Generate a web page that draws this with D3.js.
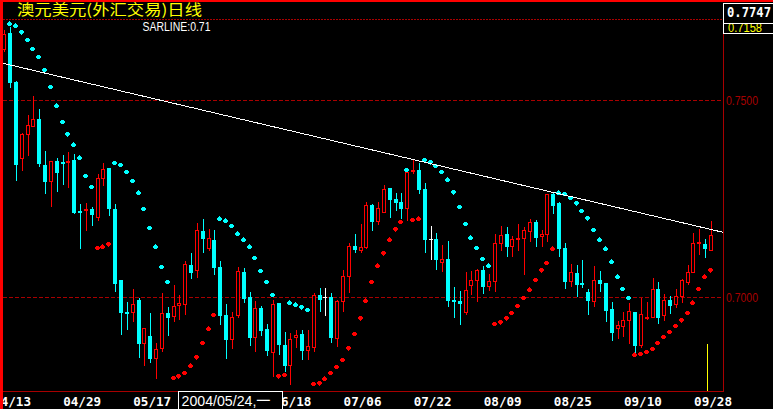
<!DOCTYPE html>
<html><head><meta charset="utf-8">
<script src="https://cdn.jsdelivr.net/npm/d3@7"></script>
<style>html,body{margin:0;padding:0;background:#000;overflow:hidden}svg{display:block}</style>
</head><body><svg id="c" width="773" height="409"></svg>
<script>
const title = "澳元美元(外汇交易)日线";
const sarLabel = "SARLINE:0.71";
const cursorLabel = "2004/05/24,一";
const cursorDate = "05/24";
const cursorPrice = 0.7747;
const dates = ["04/12","04/13","04/14","04/15","04/16","04/19","04/20","04/21","04/22","04/23","04/26","04/27","04/28","04/29","04/30",
"05/03","05/04","05/05","05/06","05/07","05/10","05/11","05/12","05/13","05/14","05/17","05/18","05/19","05/20","05/21","05/24","05/25","05/26","05/27","05/28","05/31",
"06/01","06/02","06/03","06/04","06/07","06/08","06/09","06/10","06/11","06/14","06/15","06/16","06/17","06/18","06/21","06/22","06/23","06/24","06/25","06/28","06/29","06/30",
"07/01","07/02","07/05","07/06","07/07","07/08","07/09","07/12","07/13","07/14","07/15","07/16","07/19","07/20","07/21","07/22","07/23","07/26","07/27","07/28","07/29","07/30",
"08/02","08/03","08/04","08/05","08/06","08/09","08/10","08/11","08/12","08/13","08/16","08/17","08/18","08/19","08/20","08/23","08/24","08/25","08/26","08/27","08/30","08/31",
"09/01","09/02","09/03","09/06","09/07","09/08","09/09","09/10","09/13","09/14","09/15","09/16","09/17","09/20","09/21","09/22","09/23","09/24","09/27","09/28"];
const xTicks = ["04/13","04/29","05/17","06/18","07/06","07/22","08/09","08/25","09/10","09/28"];
const yTicks = [0.70, 0.75];
const open = [0.7628,0.7672,0.7547,0.7350,0.7413,0.7433,0.7453,0.7336,0.7293,0.7346,
0.7343,0.7340,0.7349,0.7220,0.7219,0.7224,0.7201,0.7300,0.7328,0.7224,
0.7044,0.6963,0.6960,0.6993,0.6882,0.6902,0.6843,0.6869,0.6960,0.6950,
0.6978,0.6981,0.7082,0.7067,0.7168,0.7123,0.7146,0.7077,0.6955,0.6892,
0.6953,0.7064,0.7001,0.6897,0.6973,0.6920,0.6859,0.6986,0.6879,0.6826,
0.6897,0.6907,0.6864,0.6871,0.7006,0.7001,0.7001,0.6894,0.6988,0.7052,
0.7130,0.7118,0.7125,0.7234,0.7191,0.7214,0.7278,0.7250,0.7242,0.7224,
0.7318,0.7323,0.7275,0.7148,0.7148,0.7087,0.7097,0.6993,0.6991,0.6960,
0.7029,0.7041,0.7069,0.7026,0.7039,0.7135,0.7161,0.7128,0.7146,0.7148,
0.7166,0.7191,0.7153,0.7158,0.7262,0.7239,0.7125,0.7039,0.7062,0.7036,
0.7013,0.6988,0.7044,0.7036,0.6970,0.6920,0.6925,0.6940,0.6963,0.6877,
0.6945,0.6947,0.7021,0.6953,0.6993,0.6981,0.7001,0.7036,0.7062,0.7135,
0.7135,0.7118];
const high = [0.7679,0.7685,0.7549,0.7418,0.7463,0.7511,0.7478,0.7371,0.7346,0.7354,
0.7361,0.7369,0.7364,0.7238,0.7239,0.7229,0.7313,0.7341,0.7328,0.7237,
0.7044,0.6988,0.7021,0.6998,0.6922,0.6960,0.6884,0.7011,0.6975,0.7031,
0.7006,0.7092,0.7113,0.7189,0.7199,0.7173,0.7171,0.7092,0.6983,0.6963,
0.7077,0.7074,0.7013,0.6991,0.6978,0.6932,0.6993,0.6986,0.6912,0.6909,
0.6917,0.6917,0.6917,0.7011,0.7024,0.7024,0.7011,0.6993,0.7069,0.7138,
0.7161,0.7186,0.7242,0.7237,0.7242,0.7285,0.7278,0.7265,0.7265,0.7326,
0.7348,0.7341,0.7290,0.7181,0.7163,0.7133,0.7143,0.7026,0.7016,0.7064,
0.7067,0.7072,0.7080,0.7059,0.7161,0.7181,0.7179,0.7156,0.7186,0.7179,
0.7199,0.7196,0.7171,0.7262,0.7267,0.7242,0.7138,0.7085,0.7082,0.7095,
0.7021,0.7080,0.7067,0.7036,0.6988,0.6940,0.6963,0.6986,0.6963,0.6998,
0.6988,0.7049,0.7039,0.7008,0.7003,0.7021,0.7047,0.7082,0.7163,0.7173,
0.7148,0.7194];
const low = [0.7623,0.7532,0.7295,0.7321,0.7359,0.7432,0.7331,0.7263,0.7230,0.7268,
0.7286,0.7278,0.7211,0.7123,0.7168,0.7181,0.7194,0.7282,0.7206,0.7013,
0.6904,0.6917,0.6937,0.6846,0.6826,0.6833,0.6793,0.6861,0.6902,0.6937,
0.6942,0.6955,0.7047,0.7049,0.7112,0.7118,0.7057,0.6930,0.6843,0.6869,
0.6947,0.6986,0.6877,0.6861,0.6902,0.6851,0.6798,0.6854,0.6811,0.6778,
0.6871,0.6841,0.6841,0.6861,0.6963,0.6953,0.6884,0.6874,0.6963,0.7011,
0.7112,0.7112,0.7123,0.7168,0.7183,0.7214,0.7201,0.7219,0.7199,0.7194,
0.7313,0.7262,0.7112,0.7095,0.7069,0.7064,0.6975,0.6947,0.6930,0.6955,
0.7006,0.6988,0.7008,0.7016,0.7013,0.7118,0.7102,0.7102,0.7118,0.7057,
0.7140,0.7128,0.7128,0.7140,0.7212,0.7102,0.7021,0.7026,0.7001,0.7024,
0.6955,0.6975,0.7013,0.6937,0.6889,0.6894,0.6899,0.6882,0.6856,0.6871,
0.6942,0.6947,0.6932,0.6940,0.6958,0.6973,0.6986,0.7031,0.7062,0.7107,
0.7100,0.7118];
const close = [0.7668,0.7545,0.7336,0.7414,0.7437,0.7453,0.7338,0.7293,0.7346,0.7316,
0.7338,0.7346,0.7215,0.7215,0.7224,0.7209,0.7303,0.7326,0.7224,0.7034,
0.6960,0.6958,0.6983,0.6882,0.6922,0.6843,0.6869,0.6960,0.6948,0.6978,
0.6986,0.7085,0.7062,0.7171,0.7148,0.7151,0.7074,0.6953,0.6892,0.6950,
0.7067,0.6996,0.6897,0.6973,0.6915,0.6864,0.6983,0.6879,0.6826,0.6894,
0.6904,0.6864,0.6877,0.7006,0.6993,0.7001,0.6897,0.6991,0.7054,0.7130,
0.7120,0.7128,0.7234,0.7191,0.7227,0.7275,0.7247,0.7239,0.7224,0.7318,
0.7323,0.7272,0.7146,0.7148,0.7095,0.7097,0.6991,0.6988,0.6983,0.7019,
0.7044,0.7069,0.7026,0.7041,0.7138,0.7158,0.7128,0.7148,0.7151,0.7171,
0.7191,0.7151,0.7161,0.7262,0.7232,0.7123,0.7039,0.7064,0.7031,0.7031,
0.6991,0.7044,0.7034,0.6965,0.6909,0.6930,0.6942,0.6965,0.6877,0.6958,
0.6950,0.7021,0.6947,0.6993,0.6978,0.7003,0.7044,0.7064,0.7138,0.7140,
0.7123,0.7158];
const sar = [null,0.7694,0.7689,0.7673,0.7653,0.7630,0.7610,0.7577,0.7534,0.7486,
0.7445,0.7414,0.7387,0.7354,0.7308,0.7280,0.7125,0.7128,0.7135,0.7341,
0.7336,0.7318,0.7295,0.7265,0.7224,0.7176,0.7128,0.7077,0.7039,0.6795,
0.6800,0.6808,0.6826,0.6848,0.6884,0.6920,0.6955,0.7199,0.7194,0.7181,
0.7161,0.7146,0.7128,0.7100,0.7067,0.7039,0.7006,0.6800,0.6803,0.6986,
0.6981,0.6975,0.6968,0.6780,0.6782,0.6793,0.6808,0.6823,0.6841,0.6871,
0.6907,0.6947,0.6991,0.7039,0.7080,0.7112,0.7146,0.7173,0.7191,0.7323,
0.7196,0.7199,0.7348,0.7343,0.7333,0.7318,0.7298,0.7267,0.7229,0.7186,
0.7151,0.7125,0.7097,0.7080,0.6932,0.6937,0.6947,0.6960,0.6978,0.6998,
0.7019,0.7044,0.7069,0.7087,0.7123,0.7265,0.7262,0.7252,0.7239,0.7219,
0.7201,0.7171,0.7146,0.7123,0.7090,0.7052,0.7021,0.6998,0.6854,0.6856,
0.6861,0.6869,0.6884,0.6899,0.6912,0.6927,0.6942,0.6960,0.6986,0.7021,
0.7052,0.7069];
const sarLine = [0.7594, 0.7165];

const UP = "#ff0000", DOWN = "#00ffff", DOJI = "#ffffff", GRID = "#a80000", FRAME = "#ff0000";
const plotL = 3, plotR = 723, plotT = 19, plotB = 391;
const svg = d3.select("#c");
svg.append("rect").attr("width",773).attr("height",409).attr("fill","#000");

const x = d3.scalePoint().domain(dates).range([4.16, 711]);
const y = d3.scaleLinear().domain([0.70, 0.75]).range([297.3, 100.3]);
const data = dates.map((d,i)=>({d, o:open[i], h:high[i], l:low[i], c:close[i], s:sar[i]}));

// frame lines
svg.append("line").attr("x1",plotL).attr("x2",plotR).attr("y1",plotT+0.5).attr("y2",plotT+0.5)
  .attr("stroke",GRID).attr("stroke-dasharray","2,1");
svg.append("line").attr("x1",plotR+0.5).attr("x2",plotR+0.5).attr("y1",plotT).attr("y2",plotB+1).attr("stroke",GRID);
svg.append("line").attr("x1",0).attr("x2",plotR).attr("y1",plotB+0.5).attr("y2",plotB+0.5).attr("stroke",GRID);

// grid
svg.append("g").selectAll("line").data(yTicks).join("line")
  .attr("x1",plotL).attr("x2",plotR)
  .attr("y1",d=>Math.round(y(d))+0.5).attr("y2",d=>Math.round(y(d))+0.5)
  .attr("stroke",GRID).attr("stroke-dasharray","4,2");

// right axis
const ga = svg.append("g").attr("transform",`translate(${plotR},0)`)
  .call(d3.axisRight(y).tickValues(yTicks).tickFormat(d3.format(".4f")).tickSize(0).tickPadding(3));
ga.select(".domain").remove();
ga.selectAll("text").attr("fill",GRID).style("font-family","'Liberation Sans',sans-serif").style("font-size","13px")
  .attr("textLength",32).attr("lengthAdjust","spacingAndGlyphs");

// candles
const gc = svg.append("g").attr("shape-rendering","crispEdges");
data.forEach(k=>{
  const c = Math.round(x(k.d));
  const yh = Math.round(y(k.h)), yl = Math.round(y(k.l));
  const yt = Math.round(y(Math.max(k.o,k.c))), yb = Math.round(y(Math.min(k.o,k.c)));
  if (k.c > k.o) {
    if (yt > yh) gc.append("rect").attr("x",c).attr("y",yh).attr("width",1).attr("height",yt-yh).attr("fill",UP);
    if (yl > yb) gc.append("rect").attr("x",c).attr("y",yb).attr("width",1).attr("height",yl-yb).attr("fill",UP);
    if (yb - yt >= 2) {
      gc.append("rect").attr("x",c-1.5).attr("y",yt+0.5).attr("width",3).attr("height",yb-yt-1)
        .attr("fill","#000").attr("stroke",UP).attr("stroke-width",1);
    } else {
      gc.append("rect").attr("x",c-2).attr("y",yt).attr("width",4).attr("height",Math.max(1,yb-yt)).attr("fill",UP);
    }
  } else if (k.c < k.o) {
    gc.append("rect").attr("x",c).attr("y",yh).attr("width",1).attr("height",Math.max(1,yl-yh)).attr("fill",DOWN);
    gc.append("rect").attr("x",c-2).attr("y",yt).attr("width",4).attr("height",Math.max(1,yb-yt)).attr("fill",DOWN);
  } else {
    gc.append("rect").attr("x",c).attr("y",yh).attr("width",1).attr("height",Math.max(1,yl-yh)).attr("fill",DOJI);
    gc.append("rect").attr("x",c-2).attr("y",yt).attr("width",4).attr("height",1).attr("fill",DOJI);
  }
});

// SAR dots
svg.append("g").attr("shape-rendering","crispEdges").selectAll("circle")
  .data(data.filter(k=>k.s!=null)).join("circle")
  .attr("cx",k=>Math.round(x(k.d))-0.5).attr("cy",k=>y(k.s)).attr("r",2.4)
  .attr("fill",k=>k.s > k.c ? DOWN : UP);

// SAR trend line
svg.append("line").attr("x1",plotL).attr("x2",plotR)
  .attr("y1",y(sarLine[0])).attr("y2",y(sarLine[1]))
  .attr("stroke","#fff").attr("stroke-width",1).attr("shape-rendering","crispEdges");

// x axis
const gx = svg.append("g").attr("transform",`translate(0,${plotB})`)
  .call(d3.axisBottom(x).tickValues(xTicks).tickSize(0).tickPadding(6));
gx.select(".domain").remove();
gx.selectAll("text").attr("fill","#fff").attr("dx",1.5)
  .style("font-family","'DejaVu Sans Mono',monospace").style("font-size","12.6px").style("font-weight","bold");

// yellow marker line
const lastX = Math.round(x(dates[dates.length-2])) + 2;
svg.append("rect").attr("x",lastX).attr("y",plotB-47).attr("width",1).attr("height",47).attr("fill","#ffff00");

// cursor date box
const bx = Math.round(x(cursorDate));
svg.append("rect").attr("x",bx-0.5).attr("y",plotB+0.5).attr("width",104).attr("height",30)
  .attr("fill","#000").attr("stroke","#fff").attr("stroke-width",1);
svg.append("text").attr("x",bx+2.5).attr("y",406).text(cursorLabel)
  .attr("fill","#fff").style("font-family","'Liberation Sans','Noto Sans CJK SC',sans-serif").style("font-size","15px")
  .attr("textLength",89).attr("lengthAdjust","spacingAndGlyphs");

// title & indicator label
svg.append("text").attr("x",17).attr("y",14.5).text(title)
  .attr("fill","#ffff00").style("font-family","'Noto Sans CJK SC',sans-serif").style("font-size","15px")
  .attr("textLength",185).attr("lengthAdjust","spacingAndGlyphs");
svg.append("text").attr("x",142.5).attr("y",31).text(sarLabel)
  .attr("fill","#fff").style("font-family","'Liberation Sans',sans-serif").style("font-size","12.5px")
  .attr("textLength",68).attr("lengthAdjust","spacingAndGlyphs");

// price boxes at top right
svg.append("rect").attr("x",plotR+0.5).attr("y",23.5).attr("width",60).attr("height",10)
  .attr("fill","#000").attr("stroke","#fff");
svg.append("text").attr("x",728).attr("y",31.5).text(d3.format(".4f")(close[close.length-1]))
  .attr("fill","#ffff00").style("font-family","'Liberation Sans',sans-serif").style("font-size","12px")
  .attr("textLength",34).attr("lengthAdjust","spacingAndGlyphs");
svg.append("rect").attr("x",plotR+0.5).attr("y",3.5).attr("width",60).attr("height",20)
  .attr("fill","#000").attr("stroke","#fff");
svg.append("text").attr("x",727).attr("y",17).text(d3.format(".4f")(cursorPrice))
  .attr("fill","#fff").style("font-family","'DejaVu Sans Mono',monospace").style("font-size","14px").style("font-weight","bold")
  .attr("textLength",44).attr("lengthAdjust","spacingAndGlyphs");

// outer red border (top, left)
svg.append("rect").attr("x",0).attr("y",0).attr("width",773).attr("height",2).attr("fill",FRAME);
svg.append("rect").attr("x",0).attr("y",0).attr("width",3).attr("height",409).attr("fill",FRAME);
</script></body></html>
